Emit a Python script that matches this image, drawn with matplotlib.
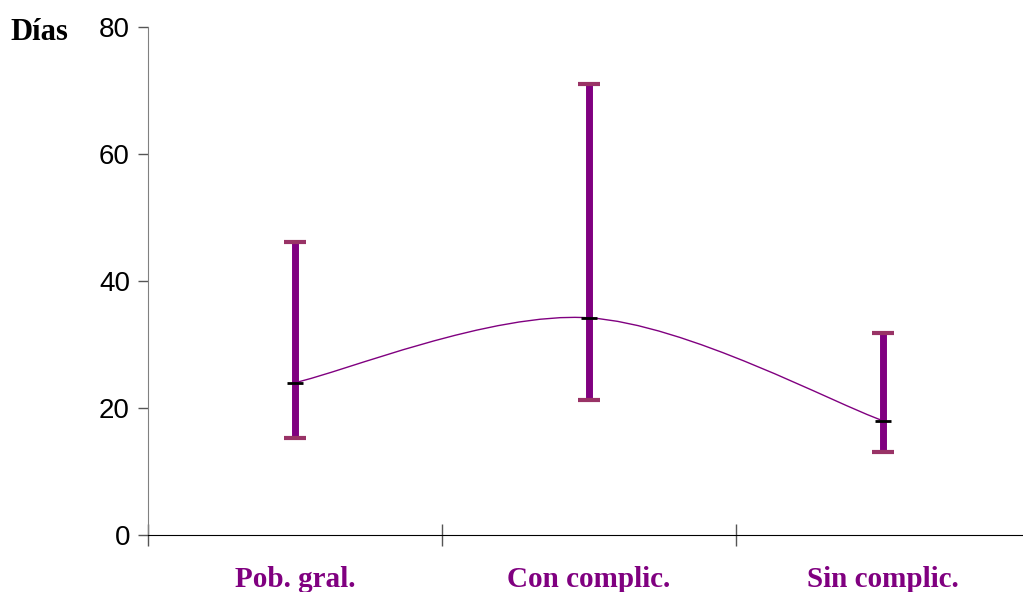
import matplotlib
matplotlib.use("Agg")
import matplotlib.pyplot as plt
import numpy as np
from matplotlib.path import Path
from matplotlib.patches import PathPatch

categories = ["Pob. gral.", "Con complic.", "Sin complic."]
means = [24.0, 34.2, 18.0]
lows = [15.3, 21.2, 13.1]
highs = [46.2, 71.0, 31.8]

PURPLE = "#800080"
CAP = "#993366"

fig = plt.figure(figsize=(10.23, 5.92), dpi=100)
ax = fig.add_axes([148 / 1023, 57 / 592, 882 / 1023, 508 / 592])

x = np.arange(len(categories))

# smoothed line through the means (Catmull-Rom -> Bezier)
pts = np.column_stack([x, means]).astype(float)
ext = np.vstack([pts[0], pts, pts[-1]])
verts = [tuple(pts[0])]
codes = [Path.MOVETO]
for i in range(1, len(ext) - 2):
    p0, p1, p2, p3 = ext[i - 1], ext[i], ext[i + 1], ext[i + 2]
    c1 = p1 + (p2 - p0) / 6
    c2 = p2 - (p3 - p1) / 6
    verts += [tuple(c1), tuple(c2), tuple(p2)]
    codes += [Path.CURVE4] * 3
ax.add_patch(PathPatch(Path(verts, codes), facecolor="none",
                       edgecolor=PURPLE, linewidth=1.0, zorder=2))

# range bars
ax.vlines(x, lows, highs, color=PURPLE, linewidth=5, zorder=3)
ax.plot(x, lows, ls="none", marker="_", color=CAP, markersize=16,
        markeredgewidth=3, zorder=4)
ax.plot(x, highs, ls="none", marker="_", color=CAP, markersize=16,
        markeredgewidth=3, zorder=4)
ax.plot(x, means, ls="none", marker="_", color="black", markersize=11.5,
        markeredgewidth=2, zorder=5)

ax.set_xlim(-0.5, 2.5)
ax.set_ylim(0, 80)
ax.set_yticks([0, 20, 40, 60, 80])
ax.set_xticks([-0.5, 0.5, 1.5])
ax.set_xticklabels([])
ax.tick_params(axis="x", direction="inout", length=16, width=1, color="#555555")
ax.tick_params(axis="y", direction="out", length=7, width=1, color="#555555",
               labelsize=20, pad=6)
for lbl in ax.get_yticklabels():
    lbl.set_family("Liberation Sans")

for s in ["top", "right"]:
    ax.spines[s].set_visible(False)
ax.spines["left"].set_color("#808080")
ax.spines["bottom"].set_color("black")

for xi, name in zip(x, categories):
    ax.text(xi, -7.0, name, ha="center", va="center", color=PURPLE,
            fontsize=21, fontweight="bold", family="Liberation Serif")

fig.text(10 / 1023, 1 - 32 / 592, "Días", ha="left", va="center",
         fontsize=22, fontweight="bold", family="Liberation Serif")

fig.savefig("out.png", dpi=100)
